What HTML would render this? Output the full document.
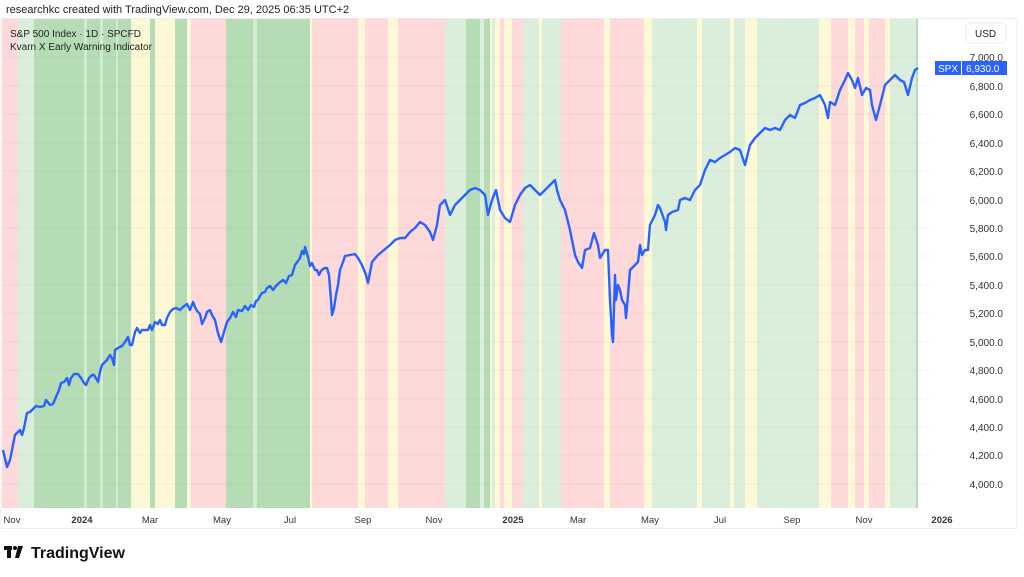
<!DOCTYPE html>
<html><head><meta charset="utf-8"><style>
body{margin:0;background:#fff;width:1024px;height:572px;overflow:hidden;font-family:"Liberation Sans",sans-serif}
</style></head><body>
<svg width="1024" height="572" xmlns="http://www.w3.org/2000/svg" font-family="Liberation Sans, sans-serif">
<text x="6" y="13" font-size="11" fill="#222">researchkc created with TradingView.com, Dec 29, 2025 06:35 UTC+2</text>
<rect x="1" y="18.5" width="1016" height="510" fill="none" stroke="#eee"/>
<g>
<rect x="2" y="19" width="16" height="489" fill="#fdd9d9"/>
<rect x="18" y="19" width="16" height="489" fill="#dbeedb"/>
<rect x="34" y="19" width="97" height="489" fill="#b5dcb5"/>
<rect x="84" y="19" width="3" height="489" fill="#d4ecd4"/>
<rect x="100" y="19" width="3" height="489" fill="#d4ecd4"/>
<rect x="116" y="19" width="2" height="489" fill="#d4ecd4"/>
<rect x="131" y="19" width="19" height="489" fill="#fdf8d5"/>
<rect x="150" y="19" width="5" height="489" fill="#b5dcb5"/>
<rect x="155" y="19" width="20" height="489" fill="#fdf8d5"/>
<rect x="175" y="19" width="12" height="489" fill="#b5dcb5"/>
<rect x="187" y="19" width="4" height="489" fill="#fdf8d5"/>
<rect x="191" y="19" width="35" height="489" fill="#fdd9d9"/>
<rect x="226" y="19" width="84" height="489" fill="#b5dcb5"/>
<rect x="253" y="19" width="4" height="489" fill="#d4ecd4"/>
<rect x="310" y="19" width="2" height="489" fill="#fdf8d5"/>
<rect x="312" y="19" width="46" height="489" fill="#fdd9d9"/>
<rect x="358" y="19" width="7" height="489" fill="#fdf8d5"/>
<rect x="365" y="19" width="23" height="489" fill="#fdd9d9"/>
<rect x="388" y="19" width="10" height="489" fill="#fdf8d5"/>
<rect x="398" y="19" width="47" height="489" fill="#fdd9d9"/>
<rect x="445" y="19" width="21" height="489" fill="#dbeedb"/>
<rect x="466" y="19" width="14" height="489" fill="#b5dcb5"/>
<rect x="480" y="19" width="4" height="489" fill="#dbeedb"/>
<rect x="484" y="19" width="6" height="489" fill="#b5dcb5"/>
<rect x="490" y="19" width="2" height="489" fill="#fdf8d5"/>
<rect x="492" y="19" width="3" height="489" fill="#dbeedb"/>
<rect x="495" y="19" width="5" height="489" fill="#fdf8d5"/>
<rect x="500" y="19" width="4" height="489" fill="#fdd9d9"/>
<rect x="504" y="19" width="8" height="489" fill="#fdf8d5"/>
<rect x="512" y="19" width="11" height="489" fill="#fdd9d9"/>
<rect x="523" y="19" width="16" height="489" fill="#dbeedb"/>
<rect x="539" y="19" width="3" height="489" fill="#fdf8d5"/>
<rect x="542" y="19" width="19" height="489" fill="#dbeedb"/>
<rect x="561" y="19" width="43" height="489" fill="#fdd9d9"/>
<rect x="604" y="19" width="6" height="489" fill="#fdf8d5"/>
<rect x="610" y="19" width="34" height="489" fill="#fdd9d9"/>
<rect x="644" y="19" width="8" height="489" fill="#fdf8d5"/>
<rect x="652" y="19" width="45" height="489" fill="#dbeedb"/>
<rect x="697" y="19" width="5" height="489" fill="#fdf8d5"/>
<rect x="702" y="19" width="28" height="489" fill="#dbeedb"/>
<rect x="730" y="19" width="4" height="489" fill="#fdf8d5"/>
<rect x="734" y="19" width="11" height="489" fill="#dbeedb"/>
<rect x="745" y="19" width="12" height="489" fill="#fdf8d5"/>
<rect x="757" y="19" width="62" height="489" fill="#dbeedb"/>
<rect x="819" y="19" width="12" height="489" fill="#fdf8d5"/>
<rect x="831" y="19" width="17" height="489" fill="#fdd9d9"/>
<rect x="848" y="19" width="7" height="489" fill="#fdf8d5"/>
<rect x="855" y="19" width="9" height="489" fill="#fdd9d9"/>
<rect x="864" y="19" width="5" height="489" fill="#fdf8d5"/>
<rect x="869" y="19" width="16" height="489" fill="#fdd9d9"/>
<rect x="885" y="19" width="5" height="489" fill="#fdf8d5"/>
<rect x="890" y="19" width="26" height="489" fill="#dbeedb"/>
<rect x="916" y="19" width="2" height="489" fill="#b5dcb5"/>
</g>
<g stroke="#000" stroke-opacity="0.035">
<line x1="2" x2="930" y1="57" y2="57"/><line x1="2" x2="930" y1="86" y2="86"/><line x1="2" x2="930" y1="114" y2="114"/><line x1="2" x2="930" y1="143" y2="143"/><line x1="2" x2="930" y1="171" y2="171"/><line x1="2" x2="930" y1="200" y2="200"/><line x1="2" x2="930" y1="228" y2="228"/><line x1="2" x2="930" y1="256" y2="256"/><line x1="2" x2="930" y1="285" y2="285"/><line x1="2" x2="930" y1="313" y2="313"/><line x1="2" x2="930" y1="342" y2="342"/><line x1="2" x2="930" y1="370" y2="370"/><line x1="2" x2="930" y1="399" y2="399"/><line x1="2" x2="930" y1="427" y2="427"/><line x1="2" x2="930" y1="455" y2="455"/><line x1="2" x2="930" y1="484" y2="484"/>
</g>
<polyline fill="none" stroke="#2962ff" stroke-width="2.4" stroke-linejoin="round" points="3,450 7,467 10,460 12,450 15,435 18,432 20,430 22,435 24,428 27,413 30,412 33,409 36,406 40,407 44,406 46,400 50,405 53,404 56,397 59,390 61,383 64,382 67,378 69,385 71,378 74,374 78,374 81,378 84,383 86,385 89,378 92,375 94,375 97,380 98,382 100,372 102,365 104,363 107,360 110,355 112,358 114,365 115,350 118,348 122,346 125,342 128,337 130,345 132,345 135,332 137,328 140,333 142,330 145,330 148,330 150,325 152,330 155,322 158,324 160,320 162,325 165,325 167,318 170,312 173,309 176,308 180,310 183,307 187,304 190,310 193,302 195,307 197,311 200,314 202,324 205,318 207,312 210,310 212,315 215,320 218,333 221,342 224,332 227,322 230,318 233,312 236,317 238,310 242,311 245,306 248,310 251,305 254,307 256,301 258,300 260,296 262,293 265,292 267,288 270,286 273,290 276,286 279,283 283,280 286,283 289,276 292,275 295,265 298,261 300,258 302,251 304,254 305,247 308,257 310,266 312,263 315,270 317,270 319,275 321,271 323,269 325,268 327,268 329,275 331,300 332,315 334,308 336,295 338,285 340,270 343,262 345,256 350,255 355,254 358,258 362,265 366,275 368,283 372,262 378,255 384,250 390,245 395,240 400,238 405,238 410,232 415,228 420,222 425,225 430,232 433,240 437,225 440,205 445,200 450,215 455,205 460,200 465,195 470,190 475,188 480,190 485,195 488,215 492,200 496,190 500,210 505,218 510,222 515,205 520,195 525,188 530,185 535,190 540,195 545,190 550,185 555,180 557,190 560,200 565,210 570,230 575,255 578,262 582,268 585,250 590,248 594,233 598,245 600,258 605,250 608,250 610,300 612,335 613,342 615,275 616,300 618,285 620,290 622,300 625,305 626,318 628,295 630,270 635,265 638,262 640,245 642,255 645,250 648,250 650,225 655,215 658,205 660,208 665,222 666,230 668,215 672,212 678,210 680,200 685,198 690,200 695,190 700,185 705,170 710,160 715,162 720,158 725,155 730,152 735,148 740,150 745,165 750,145 755,138 760,133 765,128 770,130 775,128 780,130 785,120 790,115 795,118 800,105 805,103 810,100 815,98 820,95 825,105 828,118 830,102 835,105 840,90 845,80 848,73 852,80 855,88 858,78 862,95 866,88 870,90 872,105 876,120 880,105 885,85 890,80 895,75 900,80 904,82 908,95 912,78 915,70 918,68"/>
<text x="10" y="37" font-size="10" fill="#222">S&amp;P 500 Index · 1D · SPCFD</text>
<text x="10" y="50" font-size="10" fill="#222">Kvarn X Early Warning Indicator</text>
<rect x="966" y="23" width="40" height="20" rx="4" fill="#fff" stroke="#eee"/>
<text x="975" y="37" font-size="10" fill="#222">USD</text>
<g font-size="10" fill="#333" text-anchor="end">
<text x="1003" y="61">7,000.0</text><text x="1003" y="90">6,800.0</text><text x="1003" y="118">6,600.0</text><text x="1003" y="147">6,400.0</text><text x="1003" y="175">6,200.0</text><text x="1003" y="204">6,000.0</text><text x="1003" y="232">5,800.0</text><text x="1003" y="260">5,600.0</text><text x="1003" y="289">5,400.0</text><text x="1003" y="317">5,200.0</text><text x="1003" y="346">5,000.0</text><text x="1003" y="374">4,800.0</text><text x="1003" y="403">4,600.0</text><text x="1003" y="431">4,400.0</text><text x="1003" y="459">4,200.0</text><text x="1003" y="488">4,000.0</text>
</g>
<rect x="935" y="61" width="26" height="14" fill="#2962ff"/>
<rect x="962" y="61" width="45" height="14" fill="#2962ff"/>
<text x="938" y="72" font-size="10" fill="#fff">SPX</text>
<text x="966" y="72" font-size="10" fill="#fff">6,930.0</text>
<g font-size="9.5" fill="#333" text-anchor="middle">
<text x="12" y="523">Nov</text><text x="82" y="523" font-weight="bold">2024</text><text x="150" y="523">Mar</text><text x="222" y="523">May</text><text x="290" y="523">Jul</text><text x="363" y="523">Sep</text><text x="434" y="523">Nov</text><text x="513" y="523" font-weight="bold">2025</text><text x="578" y="523">Mar</text><text x="650" y="523">May</text><text x="720" y="523">Jul</text><text x="792" y="523">Sep</text><text x="864" y="523">Nov</text><text x="942" y="523" font-weight="bold">2026</text>
</g>
<rect x="4" y="546" width="8" height="4" fill="#111"/><rect x="7" y="546" width="4" height="12" fill="#111"/><circle cx="15" cy="548" r="2" fill="#111"/><polygon points="18,546 23,546 19,558 15,558" fill="#111"/>
<text x="31" y="558" font-size="16" font-weight="bold" fill="#111">TradingView</text>
</svg>
</body></html>
